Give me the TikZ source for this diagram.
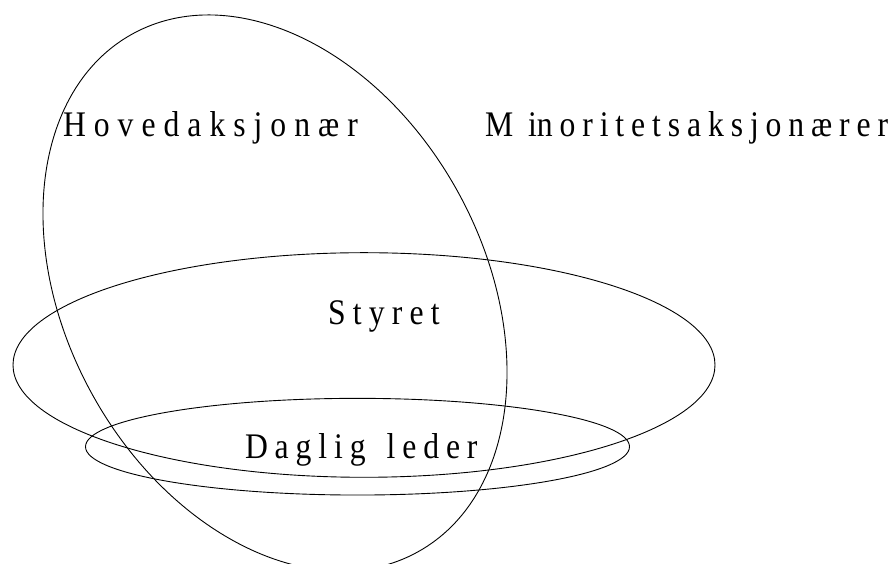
\documentclass[tikz,border=0pt]{standalone}
\usepackage{fontspec}
\setmainfont{Liberation Serif}
\newfontfamily\lblfont[FakeStretch=0.88]{Liberation Serif}
\usetikzlibrary{shapes.geometric}
\tikzset{
  ring/.style={draw=black, line width=0.9pt, ellipse, inner sep=0pt, outer sep=0pt},
  lbl/.style={inner sep=0pt, outer sep=0pt, anchor=base west, font=\lblfont\fontsize{36}{42}\selectfont}
}
\begin{document}
\begin{tikzpicture}[x=1pt,y=1pt]
\useasboundingbox (0,0) rectangle (895,564);
% tilted ellipse (Hovedaksjonaer)
\node[ring, minimum width=591.4pt, minimum height=418pt, rotate=-61.2] (hoved) at (275,271) {};
% wide ellipse (Styret)
\node[ring, minimum width=702pt, minimum height=224.6pt] (styret) at (364,199) {};
% small ellipse (Daglig leder)
\node[ring, minimum width=544pt, minimum height=96.7pt] (daglig) at (357.5,117.3) {};
% labels
\node[lbl] (thoved) at (63,427) {\spaceskip=8pt H o v e d a k s j o n æ r};
\node[lbl] (tminor) at (485,427) {\spaceskip=6.9pt M\kern8pt\ in o r i t e t s a k s j o n æ r e r};
\node[lbl] (tstyret) at (328,239) {\spaceskip=7.2pt S t y r e t};
\node[lbl] (tdaglig) at (245,105) {\spaceskip=6.9pt D a g l i g\kern14pt\ l e d e r};
\end{tikzpicture}
\end{document}
